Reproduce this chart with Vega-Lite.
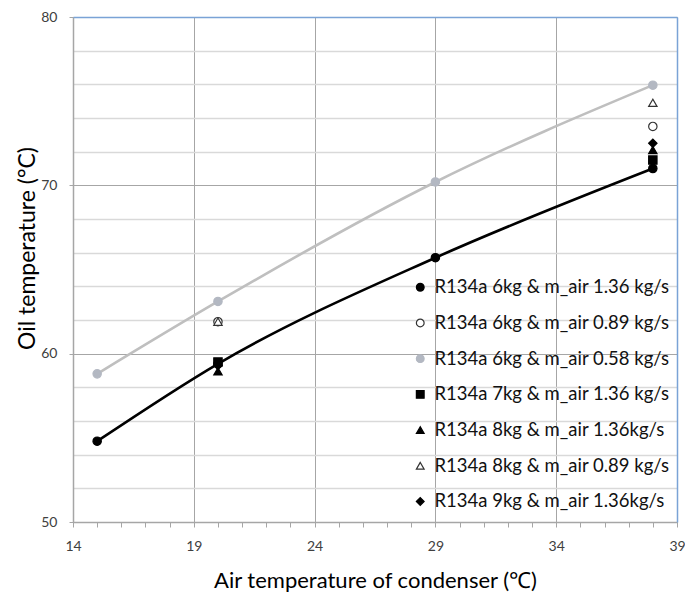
{
  "$schema": "https://vega.github.io/schema/vega-lite/v6.json",
  "width": 604,
  "height": 505,
  "autosize": {"type": "none"},
  "padding": {"left": 73, "top": 17, "right": 8, "bottom": 71},
  "background": "white",
  "config": {"font": "Lato", "view": {"stroke": null}},
  "datasets": {
    "pts": [
      {"series": "R134a 6kg & m_air 0.58 kg/s", "x": 15, "y": 58.8},
      {"series": "R134a 6kg & m_air 0.58 kg/s", "x": 20, "y": 63.1},
      {"series": "R134a 6kg & m_air 0.58 kg/s", "x": 29, "y": 70.2},
      {"series": "R134a 6kg & m_air 0.58 kg/s", "x": 38, "y": 75.95},
      {"series": "R134a 6kg & m_air 1.36 kg/s", "x": 15, "y": 54.8},
      {"series": "R134a 6kg & m_air 1.36 kg/s", "x": 20, "y": 59.4},
      {"series": "R134a 6kg & m_air 1.36 kg/s", "x": 29, "y": 65.7},
      {"series": "R134a 6kg & m_air 1.36 kg/s", "x": 38, "y": 71.0},
      {"series": "R134a 6kg & m_air 0.89 kg/s", "x": 20, "y": 61.9},
      {"series": "R134a 6kg & m_air 0.89 kg/s", "x": 38, "y": 73.5},
      {"series": "R134a 8kg & m_air 0.89 kg/s", "x": 20, "y": 61.9},
      {"series": "R134a 8kg & m_air 0.89 kg/s", "x": 38, "y": 74.9},
      {"series": "R134a 9kg & m_air 1.36kg/s", "x": 20, "y": 59.3},
      {"series": "R134a 9kg & m_air 1.36kg/s", "x": 38, "y": 72.5},
      {"series": "R134a 8kg & m_air 1.36kg/s", "x": 20, "y": 58.95},
      {"series": "R134a 8kg & m_air 1.36kg/s", "x": 38, "y": 72.1},
      {"series": "R134a 7kg & m_air 1.36 kg/s", "x": 20, "y": 59.5},
      {"series": "R134a 7kg & m_air 1.36 kg/s", "x": 38, "y": 71.5}
    ]
  },
  "resolve": {"axis": {"x": "independent", "y": "independent"}},
  "layer": [
    {
      "data": {"name": "pts"},
      "mark": {"type": "point", "opacity": 0},
      "encoding": {
        "x": {"field": "x", "type": "quantitative",
          "scale": {"domain": [14, 39], "nice": false, "zero": false},
          "axis": {"orient": "bottom", "values": [15,16,17,18,20,21,22,23,25,26,27,28,30,31,32,33,35,36,37,38],
            "grid": false, "domain": false, "labels": false, "ticks": true, "tickSize": 5,
            "tickColor": "#a6a6a6", "title": null}},
        "y": {"field": "y", "type": "quantitative",
          "scale": {"domain": [50, 80], "nice": false, "zero": false},
          "axis": {"orient": "left", "values": [52,54,56,58,62,64,66,68,72,74,76,78],
            "grid": true, "gridColor": "#d9d9d9", "gridWidth": 1.5,
            "domain": false, "labels": false, "ticks": false, "title": null}}
      }
    },
    {
      "data": {"name": "pts"},
      "transform": [{"filter": "datum.series == 'R134a 6kg & m_air 0.58 kg/s'"}],
      "mark": {"type": "line", "interpolate": "monotone", "color": "#bfbfbf", "strokeWidth": 2.6},
      "encoding": {
        "x": {"field": "x", "type": "quantitative",
          "axis": {"orient": "bottom", "values": [14, 19, 24, 29, 34, 39], "grid": true, "gridColor": "#a6a6a6", "gridWidth": 1,
            "domainColor": "#a6a6a6", "domainWidth": 1.5, "tickColor": "#a6a6a6", "tickSize": 5,
            "labelFontSize": 14, "labelColor": "#404040", "labelPadding": 12, "labelFlush": false,
            "title": "Air temperature of condenser (℃)", "titleFontSize": 22, "titleFontWeight": "normal",
            "titleColor": "#000000", "titleY": 65, "titleBaseline": "alphabetic"}},
        "y": {"field": "y", "type": "quantitative",
          "axis": {"orient": "left", "values": [50, 60, 70, 80], "grid": true, "gridColor": "#a6a6a6", "gridWidth": 1,
            "domainColor": "#a6a6a6", "domainWidth": 1.5, "tickColor": "#a6a6a6", "tickSize": 4,
            "labelFontSize": 14, "labelColor": "#404040", "labelPadding": 12, "labelFlush": false,
            "title": "Oil temperature (°C)", "titleFontSize": 23, "titleFontWeight": "normal",
            "titleColor": "#000000", "titleAngle": -90, "titleX": -46, "titleY": 231,
            "titleBaseline": "middle", "titleAlign": "center"}}
      }
    },
    {
      "data": {"name": "pts"},
      "transform": [{"filter": "datum.series == 'R134a 6kg & m_air 1.36 kg/s'"}],
      "mark": {"type": "line", "interpolate": "monotone", "color": "#000000", "strokeWidth": 2.6},
      "encoding": {
        "x": {"field": "x", "type": "quantitative",
          "axis": {"orient": "top", "domainColor": "#7aa3d6", "domainWidth": 1.5, "labels": false,
            "ticks": false, "grid": false, "title": null, "zindex": 1}},
        "y": {"field": "y", "type": "quantitative",
          "axis": {"orient": "right", "domainColor": "#7aa3d6", "domainWidth": 1.5, "labels": false,
            "ticks": false, "grid": false, "title": null, "zindex": 1}}
      }
    },
    {
      "data": {"name": "pts"},
      "mark": {"type": "point", "filled": false, "opacity": 1, "strokeWidth": 1.2, "size": 70},
      "encoding": {
        "x": {"field": "x", "type": "quantitative", "axis": null},
        "y": {"field": "y", "type": "quantitative", "axis": null},
        "shape": {"field": "series", "type": "nominal", "title": null,
          "scale": {"domain": ["R134a 6kg & m_air 1.36 kg/s", "R134a 6kg & m_air 0.89 kg/s", "R134a 6kg & m_air 0.58 kg/s", "R134a 7kg & m_air 1.36 kg/s", "R134a 8kg & m_air 1.36kg/s", "R134a 8kg & m_air 0.89 kg/s", "R134a 9kg & m_air 1.36kg/s"],
            "range": ["circle", "circle", "circle", "square", "triangle-up", "triangle-up", "diamond"]},
          "legend": {"orient": "none", "legendX": 338, "legendY": 261, "labelFontSize": 18.5, "labelColor": "#111111", "labelFont": "Lato", "symbolSize": 60, "rowPadding": 16.7, "labelLimit": 400, "symbolStrokeWidth": 1.2, "labelOffset": 5}},
        "fill": {"field": "series", "type": "nominal", "title": null,
          "scale": {"domain": ["R134a 6kg & m_air 1.36 kg/s", "R134a 6kg & m_air 0.89 kg/s", "R134a 6kg & m_air 0.58 kg/s", "R134a 7kg & m_air 1.36 kg/s", "R134a 8kg & m_air 1.36kg/s", "R134a 8kg & m_air 0.89 kg/s", "R134a 9kg & m_air 1.36kg/s"],
            "range": ["#000000", "#ffffff", "#b3b8c2", "#000000", "#000000", "#ffffff", "#000000"]},
          "legend": {"orient": "none", "legendX": 338, "legendY": 261, "labelFontSize": 18.5, "labelColor": "#111111", "labelFont": "Lato", "symbolSize": 60, "rowPadding": 16.7, "labelLimit": 400, "symbolStrokeWidth": 1.2, "labelOffset": 5}},
        "stroke": {"field": "series", "type": "nominal", "title": null,
          "scale": {"domain": ["R134a 6kg & m_air 1.36 kg/s", "R134a 6kg & m_air 0.89 kg/s", "R134a 6kg & m_air 0.58 kg/s", "R134a 7kg & m_air 1.36 kg/s", "R134a 8kg & m_air 1.36kg/s", "R134a 8kg & m_air 0.89 kg/s", "R134a 9kg & m_air 1.36kg/s"],
            "range": ["#000000", "#333333", "#b3b8c2", "#000000", "#000000", "#333333", "#000000"]},
          "legend": {"orient": "none", "legendX": 338, "legendY": 261, "labelFontSize": 18.5, "labelColor": "#111111", "labelFont": "Lato", "symbolSize": 60, "rowPadding": 16.7, "labelLimit": 400, "symbolStrokeWidth": 1.2, "labelOffset": 5}}
      }
    }
  ]
}
